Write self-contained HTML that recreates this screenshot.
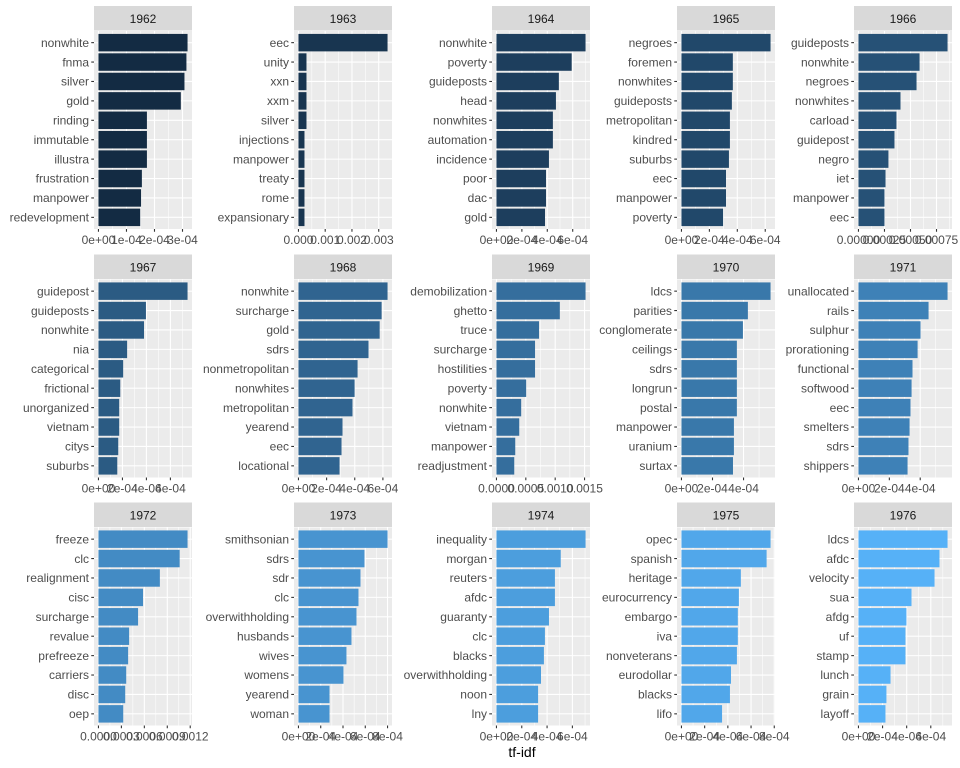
<!DOCTYPE html>
<html><head><meta charset="utf-8"><style>
html,body{margin:0;padding:0;background:#fff;}
svg{display:block;font-family:"Liberation Sans",sans-serif;}
</style></head>
<body>
<svg id="chart" width="960" height="768" viewBox="0 0 960 768" xmlns="http://www.w3.org/2000/svg">
<rect x="0" y="0" width="960" height="768" fill="#ffffff"/>
<text x="522" y="757" text-anchor="middle" font-size="14" fill="#000">tf-idf</text>
</svg>
<script>
const years = [1962,1963,1964,1965,1966,1967,1968,1969,1970,1971,1972,1973,1974,1975,1976];
const terms = [
 ["nonwhite","fnma","silver","gold","rinding","immutable","illustra","frustration","manpower","redevelopment"],
 ["eec","unity","xxn","xxm","silver","injections","manpower","treaty","rome","expansionary"],
 ["nonwhite","poverty","guideposts","head","nonwhites","automation","incidence","poor","dac","gold"],
 ["negroes","foremen","nonwhites","guideposts","metropolitan","kindred","suburbs","eec","manpower","poverty"],
 ["guideposts","nonwhite","negroes","nonwhites","carload","guidepost","negro","iet","manpower","eec"],
 ["guidepost","guideposts","nonwhite","nia","categorical","frictional","unorganized","vietnam","citys","suburbs"],
 ["nonwhite","surcharge","gold","sdrs","nonmetropolitan","nonwhites","metropolitan","yearend","eec","locational"],
 ["demobilization","ghetto","truce","surcharge","hostilities","poverty","nonwhite","vietnam","manpower","readjustment"],
 ["ldcs","parities","conglomerate","ceilings","sdrs","longrun","postal","manpower","uranium","surtax"],
 ["unallocated","rails","sulphur","prorationing","functional","softwood","eec","smelters","sdrs","shippers"],
 ["freeze","clc","realignment","cisc","surcharge","revalue","prefreeze","carriers","disc","oep"],
 ["smithsonian","sdrs","sdr","clc","overwithholding","husbands","wives","womens","yearend","woman"],
 ["inequality","morgan","reuters","afdc","guaranty","clc","blacks","overwithholding","noon","lny"],
 ["opec","spanish","heritage","eurocurrency","embargo","iva","nonveterans","eurodollar","blacks","lifo"],
 ["ldcs","afdc","velocity","sua","afdg","uf","stamp","lunch","grain","layoff"]
];
const values = [
 [3.18e-4,3.14e-4,3.07e-4,2.94e-4,1.73e-4,1.73e-4,1.73e-4,1.55e-4,1.52e-4,1.49e-4],
 [3.33e-3,0.30e-3,0.30e-3,0.30e-3,0.30e-3,0.225e-3,0.225e-3,0.225e-3,0.225e-3,0.225e-3],
 [7.01e-4,5.92e-4,4.91e-4,4.68e-4,4.44e-4,4.44e-4,4.13e-4,3.90e-4,3.90e-4,3.82e-4],
 [6.38e-4,3.68e-4,3.68e-4,3.61e-4,3.47e-4,3.47e-4,3.40e-4,3.19e-4,3.19e-4,2.98e-4],
 [8.56e-4,5.87e-4,5.58e-4,4.04e-4,3.65e-4,3.46e-4,2.88e-4,2.60e-4,2.50e-4,2.50e-4],
 [7.43e-4,3.96e-4,3.80e-4,2.39e-4,2.06e-4,1.82e-4,1.73e-4,1.73e-4,1.65e-4,1.57e-4],
 [6.33e-4,5.91e-4,5.77e-4,4.98e-4,4.20e-4,3.99e-4,3.84e-4,3.13e-4,3.06e-4,2.92e-4],
 [15.17e-4,10.79e-4,7.25e-4,6.57e-4,6.57e-4,5.06e-4,4.21e-4,3.88e-4,3.20e-4,3.03e-4],
 [5.74e-4,4.28e-4,3.96e-4,3.57e-4,3.57e-4,3.57e-4,3.57e-4,3.38e-4,3.38e-4,3.32e-4],
 [5.77e-4,4.54e-4,4.02e-4,3.83e-4,3.50e-4,3.44e-4,3.37e-4,3.31e-4,3.24e-4,3.18e-4],
 [11.65e-4,10.62e-4,8.03e-4,5.83e-4,5.18e-4,4.01e-4,3.88e-4,3.63e-4,3.50e-4,3.24e-4],
 [8.0e-4,5.93e-4,5.57e-4,5.39e-4,5.21e-4,4.76e-4,4.31e-4,4.04e-4,2.79e-4,2.79e-4],
 [7.04e-4,5.08e-4,4.62e-4,4.62e-4,4.15e-4,3.83e-4,3.75e-4,3.52e-4,3.29e-4,3.29e-4],
 [7.68e-4,7.34e-4,5.12e-4,4.95e-4,4.86e-4,4.86e-4,4.78e-4,4.27e-4,4.18e-4,3.50e-4],
 [7.39e-4,6.72e-4,6.31e-4,4.40e-4,3.98e-4,3.90e-4,3.90e-4,2.66e-4,2.32e-4,2.24e-4]
];
const tickValues = [
 [0,1e-4,2e-4,3e-4],[0,0.001,0.002,0.003],[0,2e-4,4e-4,6e-4],[0,2e-4,4e-4,6e-4],[0,0.00025,0.0005,0.00075],
 [0,2e-4,4e-4,6e-4],[0,2e-4,4e-4,6e-4],[0,0.0005,0.001,0.0015],[0,2e-4,4e-4],[0,2e-4,4e-4],
 [0,0.0003,0.0006,0.0009,0.0012],[0,2e-4,4e-4,6e-4,8e-4],[0,2e-4,4e-4,6e-4],[0,2e-4,4e-4,6e-4,8e-4],[0,2e-4,4e-4,6e-4]
];
const tickLabels = [
 ["0e+00","1e-04","2e-04","3e-04"],["0.000","0.001","0.002","0.003"],["0e+00","2e-04","4e-04","6e-04"],["0e+00","2e-04","4e-04","6e-04"],["0.00000","0.00025","0.00050","0.00075"],
 ["0e+00","2e-04","4e-04","6e-04"],["0e+00","2e-04","4e-04","6e-04"],["0.0000","0.0005","0.0010","0.0015"],["0e+00","2e-04","4e-04"],["0e+00","2e-04","4e-04"],
 ["0.0000","0.0003","0.0006","0.0009","0.0012"],["0e+00","2e-04","4e-04","6e-04","8e-04"],["0e+00","2e-04","4e-04","6e-04"],["0e+00","2e-04","4e-04","6e-04","8e-04"],["0e+00","2e-04","4e-04","6e-04"]
];

const NS = "http://www.w3.org/2000/svg";
const svg = document.getElementById('chart');
const colLefts = [94, 294, 492, 677, 854];
const rowTops = [6, 254.5, 502.5];
const PW = 98, SH = 24.5, PH = 198;
function mk(tag, attrs, parent){ const e=document.createElementNS(NS,tag); for(const k in attrs) e.setAttribute(k,attrs[k]); (parent||svg).appendChild(e); return e; }
function lerp(a,b,t){return Math.round(a+(b-a)*t);}
function colorFor(y){
  const minY=Math.min(...years), maxY=Math.max(...years);
  const t=(y-minY)/(maxY-minY);
  const c1=[0x13,0x2B,0x43], c2=[0x56,0xB1,0xF7];
  return 'rgb('+lerp(c1[0],c2[0],t)+','+lerp(c1[1],c2[1],t)+','+lerp(c1[2],c2[2],t)+')';
}
years.forEach((yr, p) => {
  const col = p % 5, row = Math.floor(p / 5);
  const L = colLefts[col], ST = rowTops[row], T = ST + SH + 0.5, B = T + PH;
  const g = mk('g', {});
  
  
  const strip = mk('rect', {x:L, y:ST, width:PW, height:SH, fill:'#d9d9d9'}, g);
  
  
  const st = mk('text', {x:L+PW/2, y:ST+17, 'text-anchor':'middle', 'font-size':'12', fill:'#1a1a1a'}, g);
  st.textContent = yr;
  
  
  const bg = mk('rect', {x:L, y:T, width:PW, height:PH, fill:'#ebebeb'}, g);
  
  
  const vals = values[p];
  const m = Math.max(...vals);
  const xs = v => L + (v + 0.05*m) / (1.1*m) * PW;
  const n = terms[p].length;
  const unit = PH / (n + 0.2);
  const yc = i => T + (0.6 + i) * unit;
  const tv = tickValues[p];
  const step = tv[1]-tv[0];
  const minors = [];
  for(let k=-1;k<tv.length;k++){ const mv = tv[0]+step*(k+0.5); if(mv>-0.05*m && mv<1.05*m) minors.push(mv); }
  minors.forEach(mv => { mk('line', {x1:xs(mv), x2:xs(mv), y1:T, y2:B, stroke:'#fff', 'stroke-width':0.55}, g); });
  tv.forEach(v => { mk('line', {x1:xs(v), x2:xs(v), y1:T, y2:B, stroke:'#fff', 'stroke-width':1.1}, g); });
  for(let i=0;i<n;i++){ mk('line', {x1:L, x2:L+PW, y1:yc(i), y2:yc(i), stroke:'#fff', 'stroke-width':1.1}, g); }
  for(let i=0;i<n;i++){
    const bar = mk('rect', {x:xs(0), y:yc(i)-0.45*unit, width:xs(vals[i])-xs(0), height:0.9*unit, fill:colorFor(yr)}, g);
    
    
    mk('line', {x1:L-2.75, x2:L, y1:yc(i), y2:yc(i), stroke:'#333', 'stroke-width':1.1}, g);
    const lab = mk('text', {x:L-5, y:yc(i)+4.2, 'text-anchor':'end', 'font-size':'12', fill:'#4d4d4d'}, g);
    lab.textContent = terms[p][i];
    
    
  }
  tv.forEach((v,k) => {
    mk('line', {x1:xs(v), x2:xs(v), y1:B, y2:B+2.75, stroke:'#333', 'stroke-width':1.1}, g);
    const tl = mk('text', {x:xs(v), y:B+15, 'text-anchor':'middle', 'font-size':'12', fill:'#4d4d4d'}, g);
    tl.textContent = tickLabels[p][k];
    
    
  });
});
</script>
</body></html>
